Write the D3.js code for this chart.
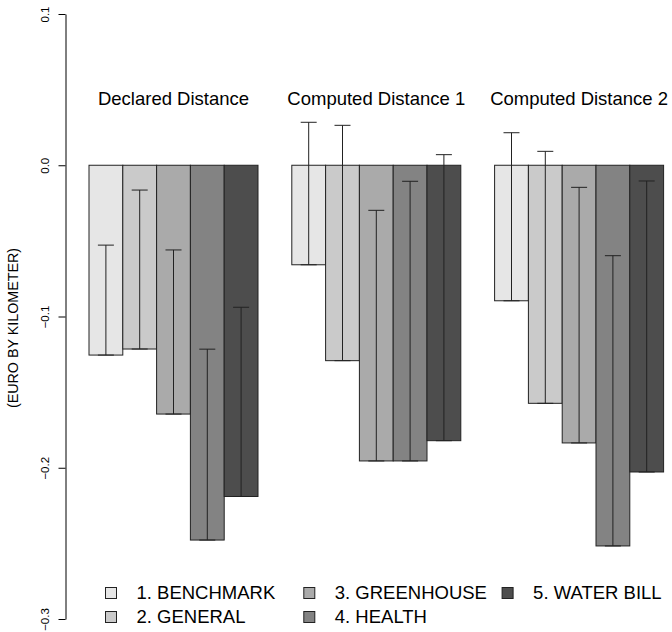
<!DOCTYPE html>
<html>
<head>
<meta charset="utf-8">
<script src="https://cdn.jsdelivr.net/npm/d3@7"></script>
<style>
  html, body { margin: 0; padding: 0; background: #fff; }
  svg { display: block; font-family: "Liberation Sans", Arial, sans-serif; }
</style>
</head>
<body>
<svg id="chart" width="672" height="632"></svg>
<script>
// ---- data ----
const groups = ["Declared Distance", "Computed Distance 1", "Computed Distance 2"];
const series = ["1. BENCHMARK", "2. GENERAL", "3. GREENHOUSE", "4. HEALTH", "5. WATER BILL"];
const colors = ["#E6E6E6", "#CACACA", "#AAAAAA", "#838383", "#4D4D4D"];
// estimates (bar values), per group, per series
const declaredValues  = [-0.1255, -0.1215, -0.1645, -0.2478, -0.2190];
const computed1Values = [-0.0658, -0.1292, -0.1955, -0.1955, -0.1821];
const computed2Values = [-0.0896, -0.1574, -0.1836, -0.2517, -0.2028];
// upper ends of the error bars
const declaredUpper  = [-0.0528, -0.0164, -0.0560, -0.1216, -0.0939];
const computed1Upper = [ 0.0284,  0.0264, -0.0298, -0.0106,  0.0070];
const computed2Upper = [ 0.0215,  0.0092, -0.0146, -0.0598, -0.0104];
const yTicks = [0.1, 0.0, -0.1, -0.2, -0.3];
const yLabel = "(EURO BY KILOMETER)";

const values = [declaredValues, computed1Values, computed2Values];
const uppers = [declaredUpper, computed1Upper, computed2Upper];

const svg = d3.select("#chart");
const y = d3.scaleLinear().domain([-0.3, 0.1]).range([619, 14]);
// x in bar-width units: each group = 1 gap + 5 bars
const x = d3.scaleLinear().domain([0, 18]).range([55.2, 663.6]);
const unit = x(1) - x(0);

const bars = [];
groups.forEach((g, gi) => {
  series.forEach((s, si) => {
    const u = gi * 6 + 1 + si;
    bars.push({ gi, si, u, v: values[gi][si], up: uppers[gi][si] });
  });
});

// bars
svg.append("g").selectAll("rect").data(bars).join("rect")
  .attr("x", d => x(d.u))
  .attr("width", unit)
  .attr("y", d => Math.min(y(0), y(d.v)))
  .attr("height", d => Math.abs(y(d.v) - y(0)))
  .attr("fill", d => colors[d.si])
  .attr("stroke", "#222")
  .attr("stroke-width", 1);

// error bars
const eb = svg.append("g").attr("stroke", "#222").attr("stroke-width", 1).attr("fill", "none");
const capHalf = 8;
bars.forEach(d => {
  const cx = x(d.u + 0.5);
  eb.append("line").attr("x1", cx).attr("x2", cx).attr("y1", y(d.v)).attr("y2", y(d.up));
  eb.append("line").attr("x1", cx - capHalf).attr("x2", cx + capHalf).attr("y1", y(d.up)).attr("y2", y(d.up));
  eb.append("line").attr("x1", cx - capHalf).attr("x2", cx + capHalf).attr("y1", y(d.v)).attr("y2", y(d.v));
});

// group titles
svg.append("g").selectAll("text").data(groups).join("text")
  .attr("x", (d, i) => x(i * 6 + 3.5))
  .attr("y", 105)
  .attr("text-anchor", "middle")
  .attr("font-size", 18.5)
  .attr("fill", "#000")
  .text(d => d);

// y axis
const axisG = svg.append("g").attr("transform", "translate(65.5,0)")
  .call(d3.axisLeft(y).tickValues(yTicks).tickSize(7).tickSizeOuter(0).tickFormat(d3.format(".1f")));
axisG.select(".domain").attr("stroke", "#000");
axisG.selectAll(".tick line").attr("stroke", "#000");
axisG.selectAll(".tick text")
  .attr("font-family", "Liberation Sans, Arial, sans-serif")
  .attr("font-size", 11.5)
  .attr("fill", "#000")
  .attr("text-anchor", "middle")
  .attr("dy", null)
  .attr("x", null)
  .attr("transform", "translate(-16.5,0) rotate(-90)");

// y axis title
svg.append("text")
  .attr("transform", `translate(18,328) rotate(-90)`)
  .attr("text-anchor", "middle")
  .attr("font-size", 14.3)
  .attr("fill", "#000")
  .text(yLabel);

// legend (column-major, 2 rows)
const legend = svg.append("g");
series.forEach((s, i) => {
  const col = Math.floor(i / 2), row = i % 2;
  const lx = 105.5 + col * 198.3, ly = 593 + row * 24;
  legend.append("rect").attr("x", lx).attr("y", ly - 5.5).attr("width", 11).attr("height", 11)
    .attr("fill", colors[i]).attr("stroke", "#222").attr("stroke-width", 1);
  legend.append("text").attr("x", lx + 31).attr("y", ly).attr("dy", "0.35em")
    .attr("font-size", 18.5).attr("fill", "#000").text(s);
});
</script>
</body>
</html>
